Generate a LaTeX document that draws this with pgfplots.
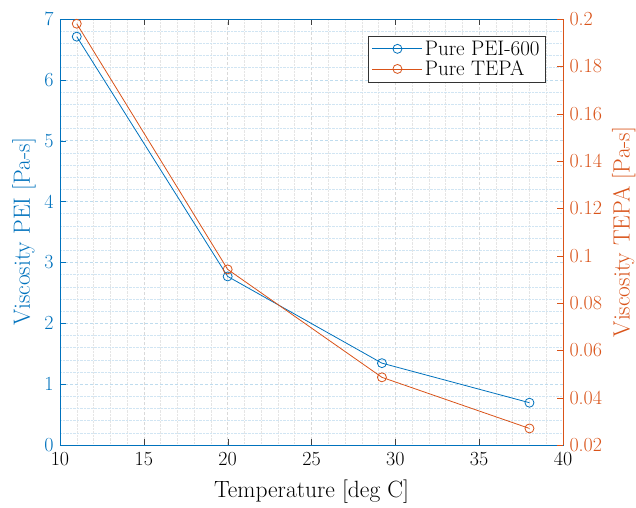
\documentclass[border=0pt]{standalone}
\usepackage{fontspec}
\usepackage{pgfplots}
\pgfplotsset{compat=1.18}
\definecolor{mblue}{RGB}{0,114,189}
\definecolor{morange}{RGB}{217,83,25}
\begin{document}
\begin{tikzpicture}
\pgfplotsset{
  common/.style={
    scale only axis, width=503pt, height=426pt,
    xmin=10, xmax=40,
    tick align=inside,
    major tick length=6pt,
    /pgf/number format/assume math mode=true,
    tick label style={font=\fontsize{20}{24}\selectfont},
  },
}
\begin{axis}[common,
  ymin=0, ymax=7,
  xtick={10,15,...,40}, ytick={0,1,...,7},
  minor x tick num=4, minor y tick num=4,
  minor tick length=0pt,
  grid=both,
  major x grid style={gray!30, densely dashed, line width=0.5pt},
  minor x grid style={gray!20, densely dotted, line width=0.5pt},
  major y grid style={mblue!25, densely dashed, line width=0.5pt},
  minor y grid style={mblue!18, densely dotted, line width=0.5pt},
  axis line style={black!75, line width=0.8pt},
  y axis line style={mblue},
  ytick pos=left,
  xtick pos=both,
  every major y tick/.append style={mblue},
  every major x tick/.append style={black!75},
  y tick label style={mblue, xshift=-3pt},
  x tick label style={yshift=-4pt},
  xlabel={Temperature [deg C]},
  ylabel={Viscosity PEI [Pa-s]},
  every axis y label/.style={at={(axis description cs:-0.0716,0.5)}, rotate=90, anchor=center, mblue, font=\fontsize{23.5}{27}\selectfont},
  every axis x label/.style={at={(axis description cs:0.5,-0.110)}, anchor=center, font=\fontsize{23.5}{27}\selectfont},
]
\addplot[mblue, line width=0.8pt, mark=o, mark size=4.5pt] coordinates {
  (11,6.71) (20,2.77) (29.2,1.345) (38,0.695)
};
\end{axis}
\begin{axis}[common,
  ymin=0.02, ymax=0.2,
  axis x line=none,
  axis y line*=right,
  ytick={0.02,0.04,...,0.2},
  yticklabel style={morange, xshift=3pt, /pgf/number format/fixed, /pgf/number format/precision=2},
  y axis line style={morange, line width=0.8pt},
  every major y tick/.append style={morange},
  ylabel={Viscosity TEPA [Pa-s]},
  every axis y label/.style={at={(axis description cs:1.121,0.5)}, rotate=90, anchor=center, morange, font=\fontsize{23.5}{27}\selectfont},
  legend style={at={(rel axis cs:0.966,0.961)}, anchor=north east,
    font=\fontsize{21}{25}\selectfont, draw=black!80, line width=0.6pt, fill=white,
    row sep=0pt, inner xsep=4pt, inner ysep=3pt},
  legend cell align=left,
  legend image code/.code={\draw[mark repeat=2, mark phase=2, #1] plot coordinates {(0pt,0pt) (25pt,0pt) (50pt,0pt)};},
]
\addlegendimage{mblue, line width=0.8pt, mark=o, mark size=4.5pt}
\addlegendentry{Pure PEI-600}
\addplot[morange, line width=0.8pt, mark=o, mark size=4.5pt] coordinates {
  (11,0.198) (20,0.0942) (29.2,0.0486) (38,0.027)
};
\addlegendentry{Pure TEPA}
\end{axis}
\pgfresetboundingbox
\path (-60pt,-62pt) rectangle (576pt,445pt);
\end{tikzpicture}
\end{document}
